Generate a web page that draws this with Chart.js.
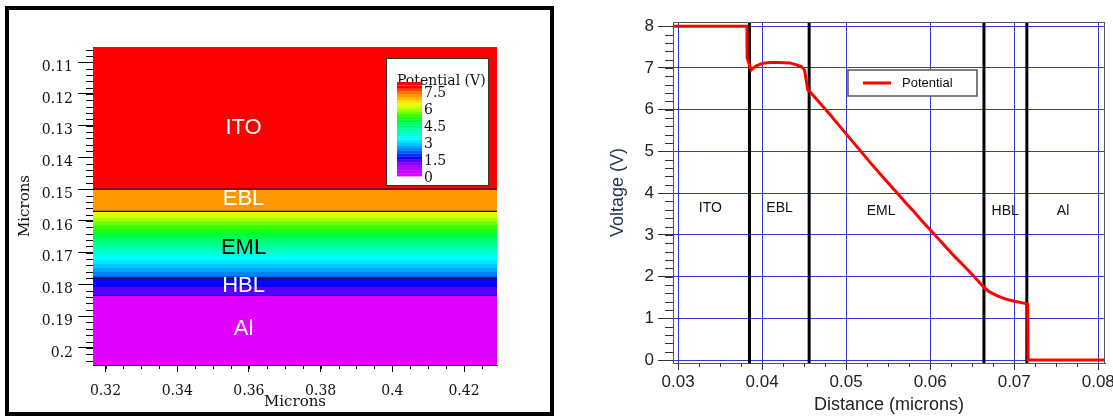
<!DOCTYPE html>
<html>
<head>
<meta charset="utf-8">
<script src="https://cdn.jsdelivr.net/npm/chart.js@4.4.1/dist/chart.umd.min.js"></script>
<style>
  html, body { margin: 0; padding: 0; background: #fff; }
  body { width: 1113px; height: 416px; position: relative; overflow: hidden; }
  #left { position: absolute; left: 0; top: 0; }
  #right { position: absolute; left: 600px; top: 0; }
  #frame { position: absolute; left: 5px; top: 6px; width: 549px; height: 410px; border: 4px solid #000; box-sizing: border-box; pointer-events: none; }
</style>
</head>
<body>
<canvas id="left" width="560" height="416"></canvas>
<canvas id="right" width="513" height="416"></canvas>
<div id="frame"></div>
<script>
// left panel: potential map across the stack (depth in microns)
const layers = ['ITO', 'EBL', 'EML', 'HBL', 'Al'];
const layerTop = [0.1052, 0.150, 0.157, 0.178, 0.1835];
const layerBottom = [0.150, 0.157, 0.178, 0.1835, 0.2054];
const layerPotTop = [8.0, 7.1, 6.4, 1.75, 0];
const layerPotBottom = [8.0, 7.1, 2.1, 1.25, 0];
const crossX = [0.3165, 0.4292];
const colorbarTicks = [0, 1.5, 3, 4.5, 6, 7.5];

// right panel: 1D cut of the potential
const distance = [0.0294, 0.0382, 0.03822, 0.0387, 0.0393, 0.0401, 0.0410, 0.0420, 0.0433, 0.0440,
  0.04466, 0.04505, 0.04544, 0.04584, 0.0470, 0.0480, 0.0490, 0.0500, 0.0510, 0.0520,
  0.0530, 0.0540, 0.0550, 0.0560, 0.0570, 0.0580, 0.0590, 0.0600, 0.0610, 0.0620,
  0.0630, 0.0640, 0.0650, 0.0660, 0.0665, 0.0670, 0.0680, 0.0690, 0.0700, 0.0710,
  0.0715, 0.0716, 0.07165, 0.0808];
const potential = [8.0, 8.0, 7.24, 6.95, 7.05, 7.11, 7.13, 7.13, 7.12, 7.08,
  7.03, 6.95, 6.47, 6.40, 6.13, 5.90, 5.66, 5.42, 5.18, 4.94,
  4.70, 4.47, 4.24, 4.02, 3.79, 3.57, 3.34, 3.12, 2.90, 2.68,
  2.46, 2.26, 2.05, 1.83, 1.72, 1.64, 1.54, 1.46, 1.41, 1.37,
  1.35, 1.34, 0.0, 0.0];
const interfaces = [0.0385, 0.0456, 0.0664, 0.0715];
const regionX = [0.03385, 0.04208, 0.05416, 0.06892, 0.07581];
const regionY = [3.64, 3.64, 3.58, 3.58, 3.58];

const layerLabelX = 0.3585;
const layerLabelDepth = [0.1307, 0.1532, 0.1686, 0.1806, 0.1941];
const voltRange = [-0.07, 8.1];

// rainbow colour map, 0 V magenta -> 8 V red
const cmapStops = [
  [0.0, [235, 0, 255]], [1.0, [160, 0, 255]], [1.3, [110, 0, 255]], [1.6, [10, 0, 255]],
  [1.9, [0, 50, 255]], [2.3, [0, 120, 255]], [2.8, [0, 190, 255]], [3.3, [0, 255, 255]],
  [4.2, [0, 255, 160]], [4.9, [0, 255, 60]], [5.3, [40, 255, 0]], [5.9, [170, 255, 0]],
  [6.3, [240, 255, 0]], [6.7, [255, 210, 0]], [7.1, [255, 155, 0]], [7.6, [255, 80, 0]],
  [7.75, [255, 0, 0]], [8.0, [255, 0, 0]]
];
function cmap(v) {
  if (v <= cmapStops[0][0]) return cmapStops[0][1];
  for (let i = 1; i < cmapStops.length; i++) {
    const [v1, c1] = cmapStops[i], [v0, c0] = cmapStops[i - 1];
    if (v <= v1) {
      const t = (v - v0) / (v1 - v0);
      return c0.map((c, k) => Math.round(c + (c1[k] - c) * t));
    }
  }
  return cmapStops[cmapStops.length - 1][1];
}
function bandColor(v) {
  const b = Math.min(31, Math.max(0, Math.floor(v / 0.25)));
  const c = cmap((b + 0.5) * 0.25);
  return 'rgb(' + c.join(',') + ')';
}
function layerFill(chart, i) {
  const y = chart.scales.y;
  const v0 = layerPotTop[i], v1 = layerPotBottom[i];
  if (!y || v0 === v1) return bandColor(v0);
  const p0 = y.getPixelForValue(layerTop[i]), p1 = y.getPixelForValue(layerBottom[i]);
  if (!isFinite(p0) || !isFinite(p1) || p0 === p1) return bandColor(v0);
  const g = chart.ctx.createLinearGradient(0, p0, 0, p1);
  for (let k = 0; k <= 400; k++) {
    const t = k / 400;
    g.addColorStop(t, bandColor(v0 + (v1 - v0) * t));
  }
  return g;
}

const minorTicks = {
  id: 'minorTicks',
  afterDraw(chart, args, opts) {
    const ctx = chart.ctx;
    ctx.save();
    ctx.strokeStyle = opts.color;
    ctx.lineWidth = 1;
    ctx.beginPath();
    for (const id of ['x', 'y']) {
      const s = chart.scales[id], m = opts[id];
      const i0 = Math.ceil(s.min / m.step - 1e-6), i1 = Math.floor(s.max / m.step + 1e-6);
      for (let i = i0; i <= i1; i++) {
        const p = Math.round(s.getPixelForValue(i * m.step)) + 0.5;
        if (id === 'x') { ctx.moveTo(p, s.top); ctx.lineTo(p, s.top + m.len); }
        else { ctx.moveTo(s.right - m.len, p); ctx.lineTo(s.right, p); }
      }
    }
    ctx.stroke();
    ctx.restore();
  }
};

const layerText = {
  id: 'layerText',
  afterDatasetsDraw(chart) {
    const {ctx, scales: {x, y}} = chart;
    ctx.save();
    ctx.font = '22px "Liberation Sans"';
    ctx.textAlign = 'center';
    ctx.textBaseline = 'middle';
    layers.forEach((name, i) => {
      ctx.fillStyle = name === 'EML' ? '#000' : '#fff';
      ctx.fillText(name, x.getPixelForValue(layerLabelX), y.getPixelForValue(layerLabelDepth[i]));
    });
    ctx.restore();
  }
};

const colorbar = {
  id: 'colorbar',
  afterDatasetsDraw(chart) {
    const {ctx, chartArea: a} = chart;
    const bx = a.right - 111, by = a.top + 11, bw = 102, bh = 127;
    ctx.save();
    ctx.fillStyle = '#fff';
    ctx.fillRect(bx, by, bw, bh);
    ctx.strokeStyle = '#333';
    ctx.lineWidth = 1;
    ctx.strokeRect(bx + 0.5, by + 0.5, bw, bh);
    ctx.font = '14px "DejaVu Serif"';
    ctx.fillStyle = '#111';
    ctx.textAlign = 'left';
    ctx.fillText('Potential (V)', bx + 11, by + 27);
    const x0 = bx + 11, y0 = by + 118, perV = 11.33;
    for (let b = 0; b < 32; b++) {
      ctx.fillStyle = bandColor(b * 0.25 + 0.1);
      ctx.fillRect(x0, y0 - (b + 1) * 0.25 * perV, 25, 0.25 * perV + 0.4);
      ctx.fillStyle = 'rgba(255,255,255,0.25)';
      ctx.fillRect(x0, y0 - (b + 1) * 0.25 * perV, 25, 0.6);
    }
    ctx.fillStyle = 'rgb(255,0,0)';
    ctx.fillRect(x0, by + 24, 25, y0 - 8 * perV - (by + 24));
    ctx.fillStyle = '#111';
    ctx.textBaseline = 'middle';
    colorbarTicks.forEach(v => ctx.fillText(String(v), x0 + 27, y0 + 2.3 - v * perV));
    ctx.restore();
  }
};

new Chart(document.getElementById('left'), {
  type: 'line',
  data: {
    datasets: layers.map((name, i) => ({
      label: name,
      data: [{x: crossX[0], y: layerTop[i]}, {x: crossX[1], y: layerTop[i]}],
      fill: {value: layerBottom[i]},
      backgroundColor: c => layerFill(c.chart, i),
      borderColor: '#111',
      borderWidth: i === 0 ? 0 : 1.2,
      pointRadius: 0
    }))
  },
  options: {
    responsive: false,
    animation: false,
    events: [],
    layout: {padding: {top: 47, right: 63, left: 0, bottom: 0}},
    scales: {
      x: {
        type: 'linear', position: 'bottom', min: crossX[0], max: crossX[1],
        afterFit: s => { s.height = 51; s.paddingLeft = 0; s.paddingRight = 0; },
        ticks: {stepSize: 0.02, includeBounds: false, padding: 11, color: '#111',
          font: {family: 'DejaVu Serif', size: 14},
          callback: v => String(parseFloat(v.toFixed(3)))},
        grid: {drawOnChartArea: false, tickLength: 7, tickColor: '#000'},
        border: {color: '#000'},
        title: {display: true, text: 'Microns', color: '#111', padding: {top: 0, bottom: 5},
          font: {family: 'DejaVu Serif', size: 15}}
      },
      y: {
        type: 'linear', reverse: true, min: layerTop[0], max: layerBottom[4],
        afterFit: s => { s.width = 93; s.paddingTop = 0; s.paddingBottom = 0; },
        ticks: {stepSize: 0.01, includeBounds: false, padding: 5, labelOffset: 5, color: '#111',
          font: {family: 'DejaVu Serif', size: 14},
          callback: v => String(parseFloat(v.toFixed(3)))},
        grid: {drawOnChartArea: false, tickLength: 15, tickColor: '#000'},
        border: {color: '#000'},
        title: {display: true, text: 'Microns', color: '#111', padding: {top: 16, bottom: 0},
          font: {family: 'DejaVu Serif', size: 15}}
      }
    },
    plugins: {
      legend: {display: false},
      tooltip: {enabled: false},
      filler: {drawTime: 'beforeDatasetsDraw'},
      minorTicks: {color: '#000', x: {step: 0.005, len: 4}, y: {step: 0.002, len: 7}}
    }
  },
  plugins: [minorTicks, layerText, colorbar]
});

const regionText = {
  id: 'regionText',
  afterDatasetsDraw(chart) {
    const {ctx, scales: {x, y}} = chart;
    ctx.save();
    ctx.font = '14px "Liberation Sans"';
    ctx.fillStyle = '#111';
    ctx.textAlign = 'center';
    ctx.textBaseline = 'middle';
    layers.forEach((name, i) => ctx.fillText(name, x.getPixelForValue(regionX[i]), y.getPixelForValue(regionY[i])));
    ctx.restore();
  }
};

const boxLegend = {
  id: 'boxLegend',
  afterDatasetsDraw(chart) {
    const {ctx, chartArea: a} = chart;
    const ds = chart.data.datasets[0];
    const bx = a.left + 175, by = a.top + 48, bw = 129, bh = 26;
    ctx.save();
    ctx.strokeStyle = '#555';
    ctx.lineWidth = 1;
    ctx.strokeRect(a.left + 0.5, a.top + 0.5, a.right - a.left - 1, a.bottom - a.top);
    ctx.fillStyle = '#fff';
    ctx.fillRect(bx, by, bw, bh);
    ctx.lineWidth = 1.5;
    ctx.strokeRect(bx, by, bw, bh);
    ctx.strokeStyle = ds.borderColor;
    ctx.lineWidth = 3;
    ctx.beginPath();
    ctx.moveTo(bx + 15, by + 13);
    ctx.lineTo(bx + 43, by + 13);
    ctx.stroke();
    ctx.font = '13px "Liberation Sans"';
    ctx.fillStyle = '#111';
    ctx.textBaseline = 'middle';
    ctx.fillText(ds.label, bx + 54, by + 13.5);
    ctx.restore();
  }
};

new Chart(document.getElementById('right'), {
  type: 'line',
  data: {
    datasets: [
      {label: 'Potential', data: distance.map((d, i) => ({x: d, y: potential[i]})),
        borderColor: '#ff0000', borderWidth: 3, pointRadius: 0, fill: false}
    ].concat(interfaces.map(xi => ({
      label: '', data: [{x: xi, y: voltRange[0]}, {x: xi, y: voltRange[1]}],
      borderColor: '#000', borderWidth: 3, pointRadius: 0, fill: false
    })))
  },
  options: {
    responsive: false,
    animation: false,
    events: [],
    layout: {padding: {top: 22, right: 8, left: 0, bottom: 0}},
    scales: {
      x: {
        type: 'linear', position: 'bottom', min: 0.0294, max: 0.0808,
        afterFit: s => { s.height = 53; s.paddingLeft = 0; s.paddingRight = 0; },
        ticks: {stepSize: 0.01, includeBounds: false, padding: 2, color: '#222',
          font: {family: 'Liberation Sans', size: 17},
          callback: v => v.toFixed(2)},
        grid: {color: '#3535d0', tickLength: 7, tickColor: '#333'},
        border: {color: '#444'},
        title: {display: true, text: 'Distance (microns)', color: '#222', padding: 0,
          font: {family: 'Liberation Sans', size: 18}}
      },
      y: {
        type: 'linear', min: voltRange[0], max: voltRange[1],
        afterFit: s => { s.width = 73; s.paddingTop = 0; s.paddingBottom = 0; },
        ticks: {stepSize: 1, includeBounds: false, padding: 4, color: '#222',
          font: {family: 'Liberation Sans', size: 17}},
        grid: {color: '#3535d0', tickLength: 15, tickColor: '#333'},
        border: {color: '#444'},
        title: {display: true, text: 'Voltage (V)', color: '#1f3251', padding: {top: 7, bottom: 0},
          font: {family: 'Liberation Sans', size: 18}}
      }
    },
    plugins: {
      legend: {display: false},
      tooltip: {enabled: false},
      minorTicks: {color: '#333', x: {step: 0.0025, len: 4}, y: {step: 0.2, len: 8}}
    }
  },
  plugins: [minorTicks, regionText, boxLegend]
});
</script>
</body>
</html>
